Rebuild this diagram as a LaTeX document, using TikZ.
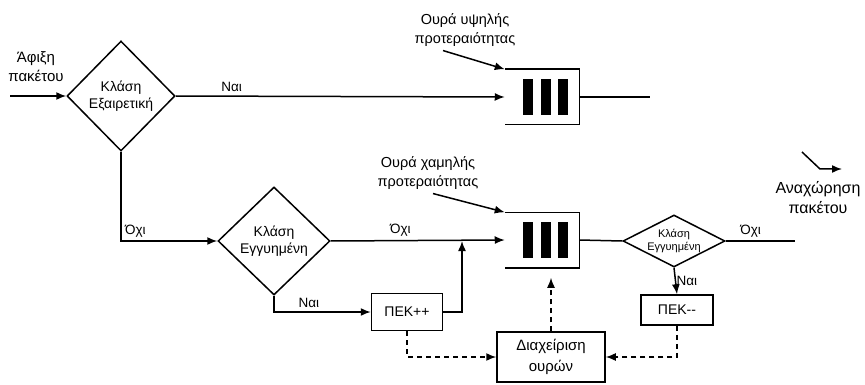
\documentclass[tikz,border=0pt]{standalone}
\usepackage{fontspec}
\setmainfont{Liberation Sans}
\usetikzlibrary{arrows.meta}
\usetikzlibrary{shapes.geometric}

\begin{document}
\begin{tikzpicture}[x=1pt,y=-1pt,line width=1.5pt,
        every node/.style={font=\fontsize{13.5}{17}\selectfont, align=center},
        cond/.style={diamond, draw, inner sep=0pt, aspect=1},
        box/.style={draw, rectangle, inner sep=0pt},
        arr/.style={-{Latex[length=10pt,width=8pt]}},
        mgmt/.style={dash pattern=on 5pt off 4pt, -{Latex[length=10pt,width=8pt]}}]
        \useasboundingbox (0,0) rectangle (865,385);
        % decisions
        \node[cond, minimum width=108pt, minimum height=110pt, font=\fontsize{14}{17}\selectfont] (exc) at (121,96) {Κλάση\\Εξαιρετική};
        \node[cond, minimum width=112pt, minimum height=108pt, font=\fontsize{14}{17}\selectfont] (gua) at (274,241) {Κλάση\\Εγγυημένη};
        \node[cond, aspect=2, minimum width=102pt, minimum height=52pt, font=\fontsize{11}{13}\selectfont] (gua2) at (674,241) {Κλάση\\Εγγυημένη};
        % queues
        \node[minimum width=73pt, minimum height=54pt, inner sep=0pt] (hq) at (542,97) {};
        \node[minimum width=73pt, minimum height=54pt, inner sep=0pt] (lq) at (542,240) {};
        \foreach \q in {hq, lq} {
            \draw (\q.north west) -- (\q.north east) -- (\q.south east) -- (\q.south west);
            \foreach \b in {-14, 4, 21}
                \fill ([xshift=\b pt]\q.center) +(-5,-18) rectangle +(5,18);
        }
        % counters
        \node[box, minimum width=71pt, minimum height=37pt, font=\fontsize{14}{17}\selectfont] (inc) at (407,312) {ΠΕΚ++};
        \node[box, minimum width=72pt, minimum height=30pt, font=\fontsize{14}{17}\selectfont] (dec) at (677,310) {ΠΕΚ-{}-};
        \node[box, minimum width=108pt, minimum height=50pt, font=\fontsize{15}{21}\selectfont] (mgr) at (551,357) {Διαχείριση\\ουρών};
        % labels
        \node[font=\fontsize{15}{19}\selectfont] (arrtxt) at (36,67) {Άφιξη\\πακέτου};
        \node[font=\fontsize{14.5}{19}\selectfont] (hqlbl) at (465,30) {Ουρά υψηλής\\προτεραιότητας};
        \node[font=\fontsize{14.5}{19}\selectfont] (lqlbl) at (428,173) {Ουρά χαμηλής\\προτεραιότητας};
        \node[font=\fontsize{16}{20}\selectfont] (deptxt) at (818,198) {Αναχώρηση\\πακέτου};
        \coordinate (in) at (10,96);
        \coordinate (hout) at (650,97);
        \coordinate (lout) at (795,241);
        \coordinate (join) at (462,241);
        \coordinate (dep) at (802,152);
        % flow
        \draw[arr] (in) -- (exc.west);
        \draw[arr] (exc.east) -- node[above, pos=0.17]{Ναι} (hq.west);
        \draw (hq.east) -- (hout);
        \draw[arr] (exc.south) |- node[above right, pos=0.5]{Όχι} (gua.west);
        \draw[arr] (gua.east) -- node[above, pos=0.4]{Όχι} (lq.west);
        \draw[arr] (gua.south) |- node[above, pos=0.68]{Ναι} (inc.west);
        \draw[arr] (inc.east) -| (join);
        \draw (lq.east) -- (gua2.west);
        \draw (gua2.east) -- node[above, pos=0.36]{Όχι} (lout);
        \draw[arr] (gua2.south) -- node[right, xshift=-3pt]{Ναι} (dec.north);
        \draw[arr] ([xshift=-22pt]hqlbl.south) -- (hq.north west);
        \draw[arr] ([xshift=5pt]lqlbl.south) -- (lq.north west);
        \draw[arr] (dep) -- ++(18,17) -- ++(22,0);
        % queue management
        \draw[mgmt, shorten >=10pt] (mgr.north) -- (mgr.north |- lq.south);
        \draw[mgmt] (inc.south) |- (mgr.west);
        \draw[mgmt] (dec.south) |- (mgr.east);
\end{tikzpicture}
\end{document}
